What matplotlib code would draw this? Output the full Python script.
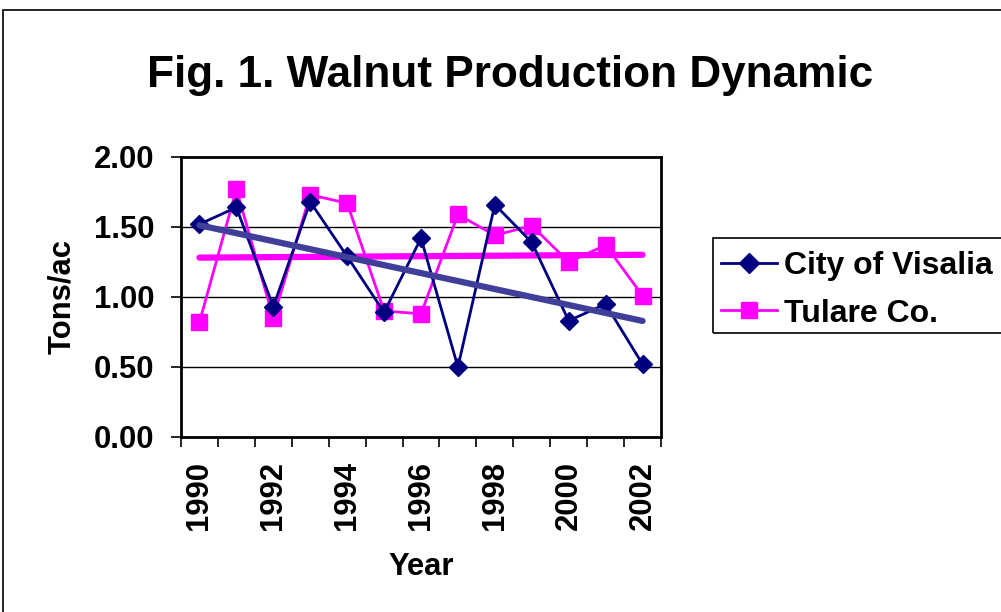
import numpy as np
import matplotlib
matplotlib.use("Agg")
import matplotlib.pyplot as plt
from matplotlib.patches import Rectangle
from matplotlib.lines import Line2D

years = [1990, 1991, 1992, 1993, 1994, 1995, 1996, 1997, 1998, 1999, 2000, 2001, 2002]
visalia = [1.52, 1.64, 0.93, 1.68, 1.29, 0.89, 1.42, 0.50, 1.66, 1.39, 0.83, 0.95, 0.52]
tulare = [0.82, 1.77, 0.85, 1.73, 1.67, 0.90, 0.88, 1.59, 1.44, 1.51, 1.25, 1.37, 1.01]
yticks = [0.0, 0.5, 1.0, 1.5, 2.0]

plt.rcParams['font.family'] = ['Liberation Sans', 'DejaVu Sans']
plt.rcParams['font.weight'] = 'bold'

W, H = 1001, 612
fig = plt.figure(figsize=(W / 100, H / 100), dpi=100)

# outer chart frame
fig.patches.append(Rectangle((3 / W, -0.1), 1.2, (H - 10) / H + 0.1, transform=fig.transFigure,
                             fill=False, edgecolor='black', linewidth=1.2))
# legend frame (extends past right edge)
fig.patches.append(Rectangle((713 / W, (H - 333) / H), 0.4, 95 / H, transform=fig.transFigure,
                             fill=False, edgecolor='black', linewidth=1.2))

ax = fig.add_axes([181 / W, (H - 437) / H, 480 / W, 280 / H])
x = np.arange(len(years))

# gridlines
for v in yticks[1:-1]:
    ax.axhline(v, color='black', linewidth=1.0, zorder=1)

ax.plot(x, tulare, color='#FF00FF', linewidth=2, marker='s', markersize=11,
        markerfacecolor='#FF00FF', markeredgecolor='#FF00FF', zorder=3)
ax.plot(x, visalia, color='#000080', linewidth=2, marker='D', markersize=9,
        markerfacecolor='#000080', markeredgecolor='#000080', zorder=4)

# linear trend lines
cv = np.polyfit(x, visalia, 1)
ct = np.polyfit(x, tulare, 1)
ax.plot(x, np.polyval(ct, x), color='#FF00FF', linewidth=4.5, solid_capstyle='round', zorder=2)
ax.plot(x, np.polyval(cv, x), color='#3F3F9A', linewidth=4.5, solid_capstyle='round', zorder=5)

FS = 22.3
ax.set_xlim(-0.5, len(years) - 0.5)
ax.set_ylim(0, 2.0)
ax.set_yticks(yticks)
ax.set_yticklabels([f"{v:.2f}" for v in yticks], fontsize=FS, fontweight='bold')
ax.set_xticks(x[::2])
ax.set_xticklabels([str(y) for y in years[::2]], rotation=90, fontsize=FS, fontweight='bold')
ax.set_xticks(np.arange(-0.5, len(years), 1.0), minor=True)
ax.tick_params(axis='x', which='major', length=0, pad=17)
ax.tick_params(axis='x', which='minor', length=7, width=1.2, direction='out')
ax.tick_params(axis='y', length=7, width=1.2, direction='out', pad=12)

for s in ax.spines.values():
    s.set_linewidth(2)
    s.set_color('black')

ax.set_ylabel('Tons/ac', fontsize=FS, fontweight='bold', labelpad=12)
ax.set_xlabel('Year', fontsize=FS, fontweight='bold', labelpad=16)

fig.text(510 / W, (H - 75) / H, 'Fig. 1. Walnut Production Dynamic', ha='center', va='center',
         fontsize=31.8, fontweight='bold')

handles = [Line2D([], [], color='#000080', linewidth=2, marker='D', markersize=10),
           Line2D([], [], color='#FF00FF', linewidth=2, marker='s', markersize=11)]
leg = fig.legend(handles, ['City of Visalia', 'Tulare Co.'], loc='upper left',
                 bbox_to_anchor=(721 / W, (H - 251) / H), fontsize=23, frameon=False,
                 borderpad=0.0, handlelength=1.75, handletextpad=0.22, labelspacing=0.55,
                 borderaxespad=0)

fig.savefig('out.png', dpi=100)
